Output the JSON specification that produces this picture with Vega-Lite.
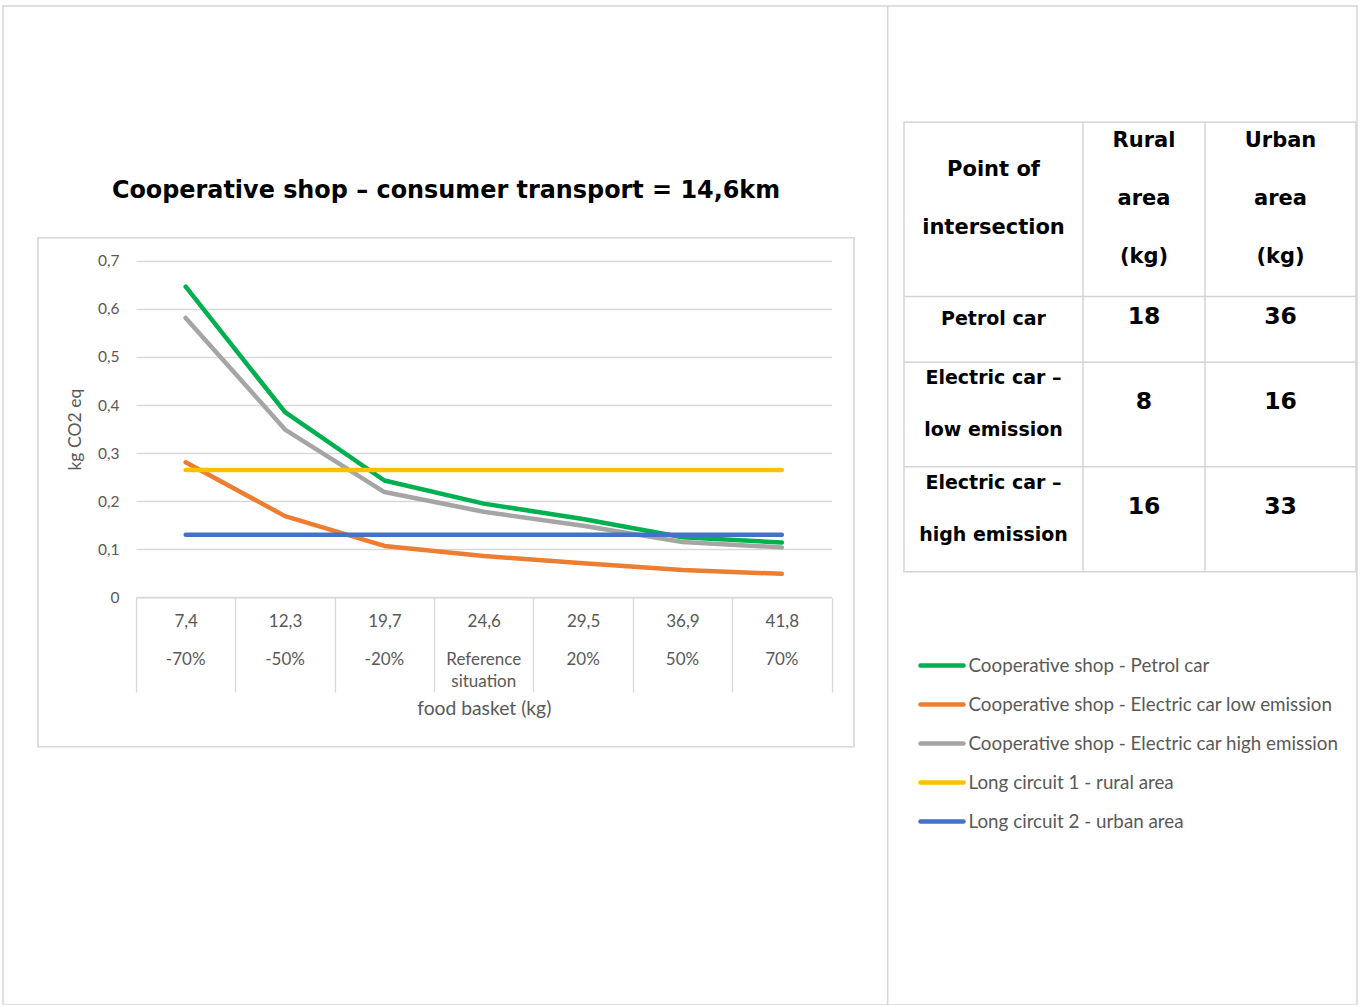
{
  "$schema": "https://vega.github.io/schema/vega-lite/v6.json",
  "width": 1354,
  "height": 999,
  "autosize": {"type": "none"},
  "padding": {"left": 3, "top": 6, "right": 5, "bottom": 0},
  "background": "white",
  "config": {"view": {"stroke": "#d6d6d6", "strokeWidth": 1.5}, "font": "Lato"},
  "datasets": {
    "emissions": [
      {"basket": "7,4", "change": "-70%", "Cooperative shop - Petrol car": 0.646, "Cooperative shop - Electric car low emission": 0.281, "Cooperative shop - Electric car high emission": 0.581, "Long circuit 1 - rural area": 0.265, "Long circuit 2 - urban area": 0.130},
      {"basket": "12,3", "change": "-50%", "Cooperative shop - Petrol car": 0.385, "Cooperative shop - Electric car low emission": 0.169, "Cooperative shop - Electric car high emission": 0.349, "Long circuit 1 - rural area": 0.265, "Long circuit 2 - urban area": 0.130},
      {"basket": "19,7", "change": "-20%", "Cooperative shop - Petrol car": 0.243, "Cooperative shop - Electric car low emission": 0.107, "Cooperative shop - Electric car high emission": 0.219, "Long circuit 1 - rural area": 0.265, "Long circuit 2 - urban area": 0.130},
      {"basket": "24,6", "change": "Reference|situation", "Cooperative shop - Petrol car": 0.195, "Cooperative shop - Electric car low emission": 0.086, "Cooperative shop - Electric car high emission": 0.178, "Long circuit 1 - rural area": 0.265, "Long circuit 2 - urban area": 0.130},
      {"basket": "29,5", "change": "20%", "Cooperative shop - Petrol car": 0.163, "Cooperative shop - Electric car low emission": 0.071, "Cooperative shop - Electric car high emission": 0.149, "Long circuit 1 - rural area": 0.265, "Long circuit 2 - urban area": 0.130},
      {"basket": "36,9", "change": "50%", "Cooperative shop - Petrol car": 0.125, "Cooperative shop - Electric car low emission": 0.057, "Cooperative shop - Electric car high emission": 0.115, "Long circuit 1 - rural area": 0.265, "Long circuit 2 - urban area": 0.130},
      {"basket": "41,8", "change": "70%", "Cooperative shop - Petrol car": 0.114, "Cooperative shop - Electric car low emission": 0.049, "Cooperative shop - Electric car high emission": 0.104, "Long circuit 1 - rural area": 0.265, "Long circuit 2 - urban area": 0.130}
    ],
    "series": [
      {"series": "Cooperative shop - Petrol car"},
      {"series": "Cooperative shop - Electric car low emission"},
      {"series": "Cooperative shop - Electric car high emission"},
      {"series": "Long circuit 1 - rural area"},
      {"series": "Long circuit 2 - urban area"}
    ],
    "header": [
      {"row": 1, "c1": "Point of|intersection", "c2": "Rural|area|(kg)", "c3": "Urban|area|(kg)"}
    ],
    "body": [
      {"row": 2, "c1": "Petrol car", "c2": "18", "c3": "36"},
      {"row": 3, "c1": "Electric car –|low emission", "c2": "8", "c3": "16"},
      {"row": 4, "c1": "Electric car –|high emission", "c2": "16", "c3": "33"}
    ],
    "single": [{}]
  },
  "layer": [
    {
      "data": {"name": "single"},
      "layer": [
        {
          "mark": {"type": "rect", "filled": false, "stroke": "#d9d9d9", "strokeWidth": 1.6},
          "encoding": {
            "x": {"datum": 0, "type": "quantitative", "scale": {"domain": [0, 1], "range": [35, 851], "zero": false, "nice": false}, "axis": null},
            "x2": {"datum": 1},
            "y": {"datum": 0, "type": "quantitative", "scale": {"domain": [0, 1], "range": [231.7, 740.7], "zero": false, "nice": false}, "axis": null},
            "y2": {"datum": 1}
          }
        },
        {
          "mark": {"type": "text", "font": "DejaVu Sans", "fontWeight": "bold", "fontSize": 23.9, "color": "#000000", "align": "center", "baseline": "middle", "dy": -47},
          "encoding": {
            "x": {"datum": 0.5, "type": "quantitative", "scale": {"domain": [0, 1], "range": [35, 851], "zero": false, "nice": false}, "axis": null},
            "y": {"datum": 0, "type": "quantitative", "scale": {"domain": [0, 1], "range": [231.7, 740.7], "zero": false, "nice": false}, "axis": null},
            "text": {"value": "Cooperative shop – consumer transport = 14,6km"}
          }
        }
      ]
    },
    {
      "data": {"name": "single"},
      "mark": {"type": "rule", "color": "#d6d6d6", "strokeWidth": 1.5},
      "encoding": {
        "x": {"datum": 1, "type": "quantitative", "scale": {"domain": [0, 1], "range": [0, 884.7], "zero": false, "nice": false}, "axis": null},
        "y": {"datum": 0, "type": "quantitative", "scale": {"domain": [0, 1], "range": [0, 999], "zero": false, "nice": false}, "axis": null},
        "y2": {"datum": 1}
      }
    },
    {
      "data": {"name": "emissions"},
      "layer": [
        {
          "transform": [
            {"fold": ["Cooperative shop - Petrol car", "Cooperative shop - Electric car low emission", "Cooperative shop - Electric car high emission", "Long circuit 1 - rural area", "Long circuit 2 - urban area"], "as": ["series", "value"]}
          ],
          "mark": {"type": "line", "strokeWidth": 4.5, "strokeCap": "round", "strokeJoin": "round"},
          "encoding": {
            "x": {
              "field": "basket", "type": "ordinal",
              "scale": {"type": "band", "domain": ["7,4", "12,3", "19,7", "24,6", "29,5", "36,9", "41,8"], "paddingInner": 0, "paddingOuter": 0, "range": [133, 828.5]},
              "axis": {
                "title": "food basket (kg)", "orient": "bottom", "offset": -407.6,
                "domainColor": "#d9d9d9", "domainWidth": 1.3,
                "tickBand": "extent", "tickSize": 94.6, "tickColor": "#d9d9d9", "tickWidth": 1.3,
                "labelAngle": 0, "labelPadding": -79,
                "labelFont": "Lato", "labelFontSize": 17, "labelColor": "#595959",
                "labelOverlap": false, "labelBound": false, "labelFlush": false,
                "titleFont": "Lato", "titleFontSize": 19.3, "titleFontWeight": "normal", "titleColor": "#595959", "titlePadding": 7,
                "grid": false
              }
            },
            "y": {
              "field": "value", "type": "quantitative",
              "scale": {"domain": [0, 0.7], "range": [591.4, 254.7], "nice": false, "zero": false},
              "axis": {
                "title": "kg CO2 eq", "orient": "left", "offset": -133,
                "values": [0, 0.1, 0.2, 0.3, 0.4, 0.5, 0.6, 0.7],
                "domain": false, "ticks": false, "tickSize": 0,
                "grid": true, "gridColor": "#d9d9d9", "gridWidth": 1.3,
                "labelExpr": "datum.value == 0 ? '0' : replace(format(datum.value, '.1f'), '.', ',')",
                "labelFont": "Lato", "labelFontSize": 15.5, "labelColor": "#595959", "labelPadding": 17,
                "titleFont": "Lato", "titleFontSize": 17.6, "titleFontWeight": "normal", "titleColor": "#595959", "titlePadding": 13
              }
            },
            "color": {
              "field": "series", "type": "nominal",
              "scale": {"domain": ["Cooperative shop - Petrol car", "Cooperative shop - Electric car low emission", "Cooperative shop - Electric car high emission", "Long circuit 1 - rural area", "Long circuit 2 - urban area"], "range": ["#00b050", "#ed7d31", "#a5a5a5", "#ffc000", "#4472c4"]},
              "legend": null
            }
          }
        },
        {
          "mark": {"type": "text", "font": "Lato", "fontSize": 17, "color": "#595959", "align": "center", "baseline": "middle", "lineBreak": "|", "lineHeight": 22},
          "encoding": {
            "x": {
              "field": "basket", "type": "ordinal",
              "scale": {"type": "band", "domain": ["7,4", "12,3", "19,7", "24,6", "29,5", "36,9", "41,8"], "paddingInner": 0, "paddingOuter": 0, "range": [133, 828.5]},
              "axis": {
                "title": "food basket (kg)", "orient": "bottom", "offset": -407.6,
                "domainColor": "#d9d9d9", "domainWidth": 1.3,
                "tickBand": "extent", "tickSize": 94.6, "tickColor": "#d9d9d9", "tickWidth": 1.3,
                "labelAngle": 0, "labelPadding": -79,
                "labelFont": "Lato", "labelFontSize": 17, "labelColor": "#595959",
                "labelOverlap": false, "labelBound": false, "labelFlush": false,
                "titleFont": "Lato", "titleFontSize": 19.3, "titleFontWeight": "normal", "titleColor": "#595959", "titlePadding": 7,
                "grid": false
              }
            },
            "y": {
              "datum": -0.13, "type": "quantitative",
              "scale": {"domain": [0, 0.7], "range": [591.4, 254.7], "nice": false, "zero": false},
              "axis": {
                "title": "kg CO2 eq", "orient": "left", "offset": -133,
                "values": [0, 0.1, 0.2, 0.3, 0.4, 0.5, 0.6, 0.7],
                "domain": false, "ticks": false, "tickSize": 0,
                "grid": true, "gridColor": "#d9d9d9", "gridWidth": 1.3,
                "labelExpr": "datum.value == 0 ? '0' : replace(format(datum.value, '.1f'), '.', ',')",
                "labelFont": "Lato", "labelFontSize": 15.5, "labelColor": "#595959", "labelPadding": 17,
                "titleFont": "Lato", "titleFontSize": 17.6, "titleFontWeight": "normal", "titleColor": "#595959", "titlePadding": 13
              }
            },
            "text": {"field": "change"}
          }
        }
      ]
    },
    {
      "layer": [
        {
          "data": {"name": "single"},
          "mark": {"type": "rect", "filled": false, "stroke": "#d4d4d4", "strokeWidth": 1.5},
          "encoding": {
            "x": {"datum": 0.5, "type": "quantitative", "scale": {"domain": [0.5, 1.5, 2.5, 3.5], "range": [901, 1080, 1202, 1353], "zero": false, "nice": false}, "axis": null},
            "x2": {"datum": 3.5},
            "y": {"datum": 0.5, "type": "quantitative", "scale": {"domain": [0.5, 1.5, 2.5, 3.5, 4.5], "range": [116.3, 290.5, 356.3, 460.7, 565.7], "zero": false, "nice": false}, "axis": null},
            "y2": {"datum": 4.5}
          }
        },
        {
          "data": {"name": "single"},
          "mark": {"type": "rule", "color": "#d4d4d4", "strokeWidth": 1.5},
          "encoding": {
            "x": {"datum": 1.5, "type": "quantitative", "scale": {"domain": [0.5, 1.5, 2.5, 3.5], "range": [901, 1080, 1202, 1353], "zero": false, "nice": false}, "axis": null},
            "y": {"datum": 0.5, "type": "quantitative", "scale": {"domain": [0.5, 1.5, 2.5, 3.5, 4.5], "range": [116.3, 290.5, 356.3, 460.7, 565.7], "zero": false, "nice": false}, "axis": null},
            "y2": {"datum": 4.5}
          }
        },
        {
          "data": {"name": "single"},
          "mark": {"type": "rule", "color": "#d4d4d4", "strokeWidth": 1.5},
          "encoding": {
            "x": {"datum": 2.5, "type": "quantitative", "scale": {"domain": [0.5, 1.5, 2.5, 3.5], "range": [901, 1080, 1202, 1353], "zero": false, "nice": false}, "axis": null},
            "y": {"datum": 0.5, "type": "quantitative", "scale": {"domain": [0.5, 1.5, 2.5, 3.5, 4.5], "range": [116.3, 290.5, 356.3, 460.7, 565.7], "zero": false, "nice": false}, "axis": null},
            "y2": {"datum": 4.5}
          }
        },
        {
          "data": {"name": "single"},
          "mark": {"type": "rule", "color": "#d4d4d4", "strokeWidth": 1.5},
          "encoding": {
            "x": {"datum": 0.5, "type": "quantitative", "scale": {"domain": [0.5, 1.5, 2.5, 3.5], "range": [901, 1080, 1202, 1353], "zero": false, "nice": false}, "axis": null},
            "x2": {"datum": 3.5},
            "y": {"datum": 1.5, "type": "quantitative", "scale": {"domain": [0.5, 1.5, 2.5, 3.5, 4.5], "range": [116.3, 290.5, 356.3, 460.7, 565.7], "zero": false, "nice": false}, "axis": null}
          }
        },
        {
          "data": {"name": "single"},
          "mark": {"type": "rule", "color": "#d4d4d4", "strokeWidth": 1.5},
          "encoding": {
            "x": {"datum": 0.5, "type": "quantitative", "scale": {"domain": [0.5, 1.5, 2.5, 3.5], "range": [901, 1080, 1202, 1353], "zero": false, "nice": false}, "axis": null},
            "x2": {"datum": 3.5},
            "y": {"datum": 2.5, "type": "quantitative", "scale": {"domain": [0.5, 1.5, 2.5, 3.5, 4.5], "range": [116.3, 290.5, 356.3, 460.7, 565.7], "zero": false, "nice": false}, "axis": null}
          }
        },
        {
          "data": {"name": "single"},
          "mark": {"type": "rule", "color": "#d4d4d4", "strokeWidth": 1.5},
          "encoding": {
            "x": {"datum": 0.5, "type": "quantitative", "scale": {"domain": [0.5, 1.5, 2.5, 3.5], "range": [901, 1080, 1202, 1353], "zero": false, "nice": false}, "axis": null},
            "x2": {"datum": 3.5},
            "y": {"datum": 3.5, "type": "quantitative", "scale": {"domain": [0.5, 1.5, 2.5, 3.5, 4.5], "range": [116.3, 290.5, 356.3, 460.7, 565.7], "zero": false, "nice": false}, "axis": null}
          }
        },
        {
          "data": {"name": "header"},
          "mark": {"type": "text", "font": "DejaVu Sans", "fontWeight": "bold", "fontSize": 21, "color": "#000000", "align": "center", "baseline": "middle", "lineBreak": "|", "lineHeight": 58, "dy": -39},
          "encoding": {
            "x": {"datum": 1, "type": "quantitative", "scale": {"domain": [0.5, 1.5, 2.5, 3.5], "range": [901, 1080, 1202, 1353], "zero": false, "nice": false}, "axis": null},
            "y": {"field": "row", "type": "quantitative", "scale": {"domain": [0.5, 1.5, 2.5, 3.5, 4.5], "range": [116.3, 290.5, 356.3, 460.7, 565.7], "zero": false, "nice": false}, "axis": null},
            "text": {"field": "c1"}
          }
        },
        {
          "data": {"name": "header"},
          "mark": {"type": "text", "font": "DejaVu Sans", "fontWeight": "bold", "fontSize": 21, "color": "#000000", "align": "center", "baseline": "middle", "lineBreak": "|", "lineHeight": 58, "dy": -68},
          "encoding": {
            "x": {"datum": 2, "type": "quantitative", "scale": {"domain": [0.5, 1.5, 2.5, 3.5], "range": [901, 1080, 1202, 1353], "zero": false, "nice": false}, "axis": null},
            "y": {"field": "row", "type": "quantitative", "scale": {"domain": [0.5, 1.5, 2.5, 3.5, 4.5], "range": [116.3, 290.5, 356.3, 460.7, 565.7], "zero": false, "nice": false}, "axis": null},
            "text": {"field": "c2"}
          }
        },
        {
          "data": {"name": "header"},
          "mark": {"type": "text", "font": "DejaVu Sans", "fontWeight": "bold", "fontSize": 21, "color": "#000000", "align": "center", "baseline": "middle", "lineBreak": "|", "lineHeight": 58, "dy": -68},
          "encoding": {
            "x": {"datum": 3, "type": "quantitative", "scale": {"domain": [0.5, 1.5, 2.5, 3.5], "range": [901, 1080, 1202, 1353], "zero": false, "nice": false}, "axis": null},
            "y": {"field": "row", "type": "quantitative", "scale": {"domain": [0.5, 1.5, 2.5, 3.5, 4.5], "range": [116.3, 290.5, 356.3, 460.7, 565.7], "zero": false, "nice": false}, "axis": null},
            "text": {"field": "c3"}
          }
        },
        {
          "data": {"name": "body"},
          "transform": [{"filter": "datum.row == 2"}],
          "mark": {"type": "text", "font": "DejaVu Sans", "fontWeight": "bold", "fontSize": 19, "color": "#000000", "align": "center", "baseline": "middle", "lineBreak": "|", "lineHeight": 52, "dy": -10.5},
          "encoding": {
            "x": {"datum": 1, "type": "quantitative", "scale": {"domain": [0.5, 1.5, 2.5, 3.5], "range": [901, 1080, 1202, 1353], "zero": false, "nice": false}, "axis": null},
            "y": {"field": "row", "type": "quantitative", "scale": {"domain": [0.5, 1.5, 2.5, 3.5, 4.5], "range": [116.3, 290.5, 356.3, 460.7, 565.7], "zero": false, "nice": false}, "axis": null},
            "text": {"field": "c1"}
          }
        },
        {
          "data": {"name": "body"},
          "transform": [{"filter": "datum.row > 2"}],
          "mark": {"type": "text", "font": "DejaVu Sans", "fontWeight": "bold", "fontSize": 19, "color": "#000000", "align": "center", "baseline": "middle", "lineBreak": "|", "lineHeight": 52, "dy": -36.5},
          "encoding": {
            "x": {"datum": 1, "type": "quantitative", "scale": {"domain": [0.5, 1.5, 2.5, 3.5], "range": [901, 1080, 1202, 1353], "zero": false, "nice": false}, "axis": null},
            "y": {"field": "row", "type": "quantitative", "scale": {"domain": [0.5, 1.5, 2.5, 3.5, 4.5], "range": [116.3, 290.5, 356.3, 460.7, 565.7], "zero": false, "nice": false}, "axis": null},
            "text": {"field": "c1"}
          }
        },
        {
          "data": {"name": "body"},
          "mark": {"type": "text", "font": "DejaVu Sans", "fontWeight": "bold", "fontSize": 23.5, "color": "#000000", "align": "center", "baseline": "middle", "dy": -12.5},
          "encoding": {
            "x": {"datum": 2, "type": "quantitative", "scale": {"domain": [0.5, 1.5, 2.5, 3.5], "range": [901, 1080, 1202, 1353], "zero": false, "nice": false}, "axis": null},
            "y": {"field": "row", "type": "quantitative", "scale": {"domain": [0.5, 1.5, 2.5, 3.5, 4.5], "range": [116.3, 290.5, 356.3, 460.7, 565.7], "zero": false, "nice": false}, "axis": null},
            "text": {"field": "c2"}
          }
        },
        {
          "data": {"name": "body"},
          "mark": {"type": "text", "font": "DejaVu Sans", "fontWeight": "bold", "fontSize": 23.5, "color": "#000000", "align": "center", "baseline": "middle", "dy": -12.5},
          "encoding": {
            "x": {"datum": 3, "type": "quantitative", "scale": {"domain": [0.5, 1.5, 2.5, 3.5], "range": [901, 1080, 1202, 1353], "zero": false, "nice": false}, "axis": null},
            "y": {"field": "row", "type": "quantitative", "scale": {"domain": [0.5, 1.5, 2.5, 3.5, 4.5], "range": [116.3, 290.5, 356.3, 460.7, 565.7], "zero": false, "nice": false}, "axis": null},
            "text": {"field": "c3"}
          }
        }
      ]
    },
    {
      "data": {"name": "series"},
      "layer": [
        {
          "mark": {"type": "rule", "strokeWidth": 4.5, "strokeCap": "round"},
          "encoding": {
            "x": {"datum": 0, "type": "quantitative", "scale": {"domain": [0, 1], "range": [917.5, 960.5], "zero": false, "nice": false}, "axis": null},
            "x2": {"datum": 1},
            "y": {"field": "series", "type": "nominal", "sort": null, "scale": {"type": "point", "domain": ["Cooperative shop - Petrol car", "Cooperative shop - Electric car low emission", "Cooperative shop - Electric car high emission", "Long circuit 1 - rural area", "Long circuit 2 - urban area"], "range": [659.5, 815.5], "padding": 0}, "axis": null},
            "color": {"field": "series", "type": "nominal", "scale": {"domain": ["Cooperative shop - Petrol car", "Cooperative shop - Electric car low emission", "Cooperative shop - Electric car high emission", "Long circuit 1 - rural area", "Long circuit 2 - urban area"], "range": ["#00b050", "#ed7d31", "#a5a5a5", "#ffc000", "#4472c4"]}, "legend": null}
          }
        },
        {
          "mark": {"type": "text", "align": "left", "baseline": "middle", "dx": 5, "font": "Lato", "fontSize": 18.8, "color": "#595959"},
          "encoding": {
            "x": {"datum": 1, "type": "quantitative", "scale": {"domain": [0, 1], "range": [917.5, 960.5], "zero": false, "nice": false}, "axis": null},
            "y": {"field": "series", "type": "nominal", "sort": null, "scale": {"type": "point", "domain": ["Cooperative shop - Petrol car", "Cooperative shop - Electric car low emission", "Cooperative shop - Electric car high emission", "Long circuit 1 - rural area", "Long circuit 2 - urban area"], "range": [659.5, 815.5], "padding": 0}, "axis": null},
            "text": {"field": "series"}
          }
        }
      ]
    }
  ],
  "resolve": {"scale": {"x": "independent", "y": "independent", "color": "independent"}}
}
